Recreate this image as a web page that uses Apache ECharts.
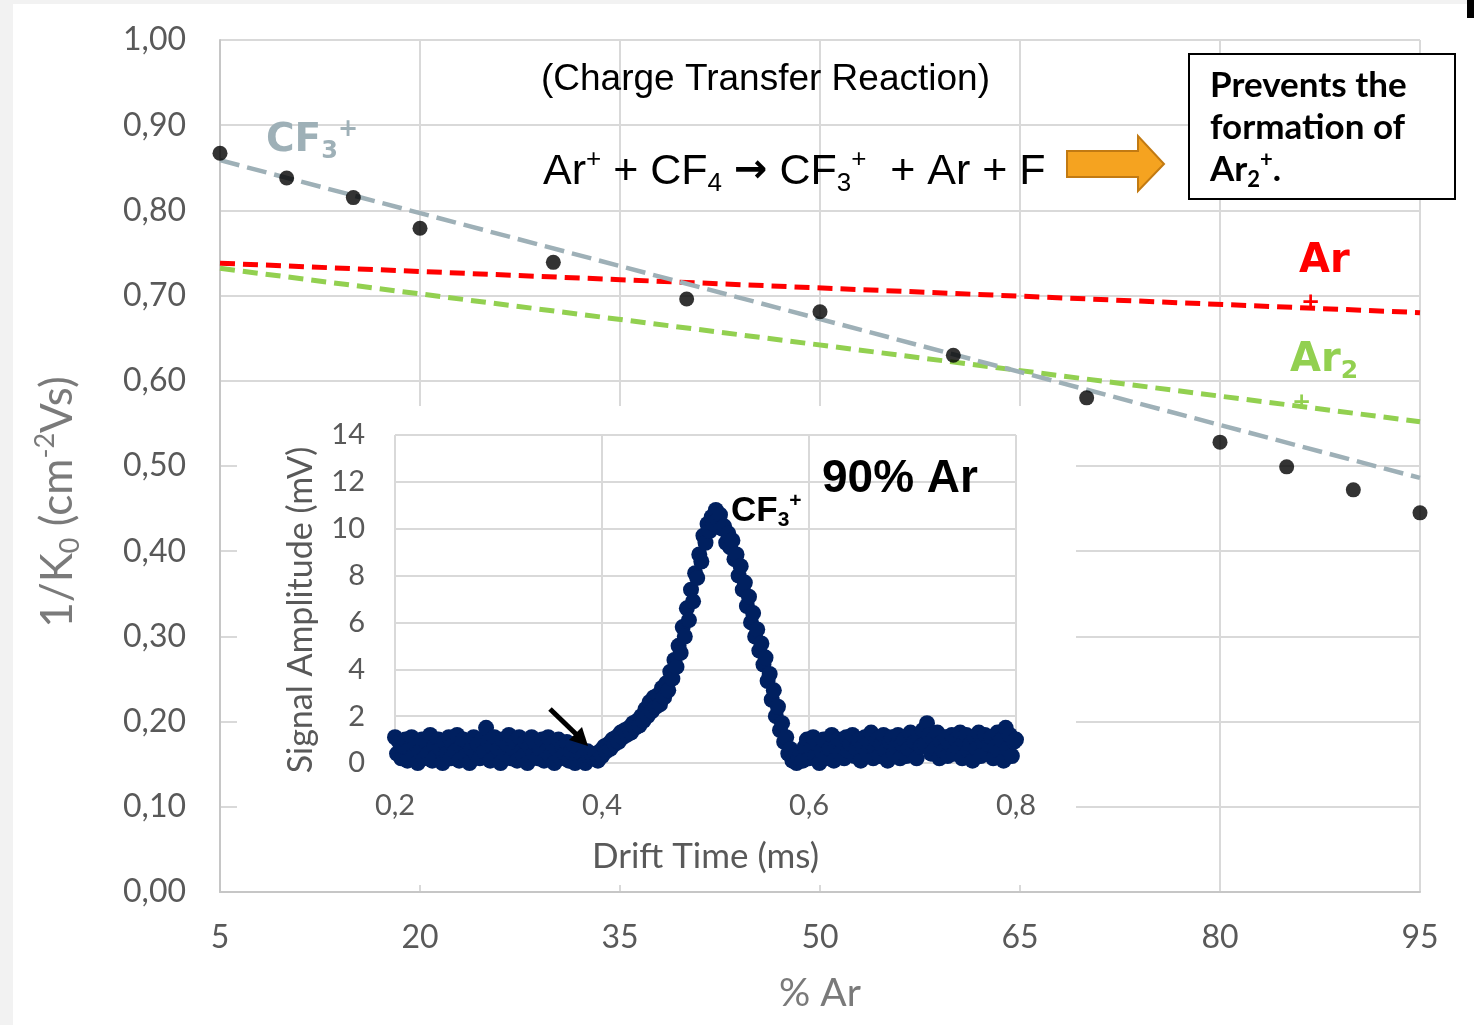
<!DOCTYPE html>
<html>
<head>
<meta charset="utf-8">
<script src="https://cdn.jsdelivr.net/npm/echarts@6/dist/echarts.min.js"></script>
<style>
  html, body { margin: 0; padding: 0; background: #fff; }
  #chart { width: 1474px; height: 1025px; }
</style>
</head>
<body>
<div id="chart"></div>
<script>
// main chart: 1/K0 vs % Ar
const arPercent = [5, 10, 15, 20, 30, 40, 50, 60, 70, 80, 85, 90, 95];
const invK0 = [0.867, 0.838, 0.815, 0.779, 0.739, 0.696, 0.681, 0.630, 0.580, 0.528, 0.499, 0.472, 0.445];

// dashed trend lines (start / end)
const cf3Trend = [[5, 0.859], [95, 0.486]];
const arTrend = [[5, 0.738], [95, 0.680]];
const ar2Trend = [[5, 0.732], [95, 0.552]];

// inset: drift spectrum at 90% Ar, one reading every 0.002 ms from 0.2 ms
const driftStart = 0.2;
const driftStep = 0.002;
const signal = [
  1.1, 0.4, 0.9, 0.2, 0.7, 1.0, 0.1, 0.6, 1.1, 0.3,
  0.8, 0.0, 0.5, 1.0, 0.2, 0.9, 0.4, 1.2, 0.1, 0.7,
  0.3, 1.0, 0.6, 0.0, 0.9, 0.4, 1.1, 0.2, 0.8, 0.5,
  1.2, 0.1, 0.7, 1.0, 0.3, 0.9, 0.0, 0.6, 1.1, 0.4,
  0.8, 0.2, 1.0, 0.5, 1.5, 0.9, 0.1, 0.7, 1.1, 0.3,
  0.6, 0.0, 1.0, 0.4, 0.8, 1.2, 0.2, 0.6, 0.9, 0.1,
  1.1, 0.5, 0.3, 0.9, 0.0, 0.7, 1.1, 0.4, 0.8, 0.2,
  0.6, 1.0, 0.1, 0.5, 1.1, 0.3, 0.8, 0.0, 0.6, 1.0,
  0.2, 0.7, 0.4, 0.9, 0.1, 0.5, 0.8, 0.0, 0.4, 0.6,
  0.1, 0.3, 0.0, 0.5, 0.2, 0.4,
  0.2, 0.4, 0.1, 0.5, 0.3, 0.7, 0.5, 0.8, 0.6, 1.0,
  0.8, 1.1, 0.9, 1.3, 1.1, 1.4, 1.2, 1.5, 1.3, 1.7,
  1.5, 1.8, 1.6, 2.0, 1.8, 2.3, 2.0, 2.6, 2.2, 2.8,
  2.4, 2.9, 2.5, 3.2, 2.8, 3.4, 3.1, 3.9, 3.6, 4.4,
  4.1, 5.0, 4.7, 5.8, 5.4, 6.6, 6.1, 7.4, 6.9, 8.1,
  7.9, 8.9, 8.6, 9.7, 9.4, 10.2, 9.9, 10.5, 10.2, 10.8,
  10.4, 10.6, 10.0, 10.1, 9.4, 9.8, 9.2, 9.5, 8.7, 8.9,
  8.0, 8.4, 7.4, 7.7, 6.7, 7.1, 6.0, 6.4, 5.4, 5.7,
  4.8, 5.1, 4.2, 4.5, 3.5, 3.8, 2.7, 3.1, 2.0, 2.4,
  1.4, 1.7, 0.9, 1.1, 0.4, 0.6, 0.1, 0.3, 0.0, 0.2,
  0.4, 0.1, 0.7, 1.0, 0.2, 0.6, 1.1, 0.3, 0.8, 0.0,
  0.5, 1.0, 0.2, 0.9, 0.6, 1.2, 0.1, 0.7, 1.0, 0.4,
  0.9, 0.2, 1.1, 0.5, 0.8, 1.2, 0.3, 0.6, 1.0, 0.1,
  0.7, 1.1, 0.4, 0.9, 1.3, 0.2, 0.6, 1.0, 0.3, 0.8,
  1.2, 0.5, 0.1, 0.9, 1.1, 0.4, 0.7, 1.2, 0.2, 0.8,
  1.0, 0.3, 0.6, 1.3, 0.5, 0.9, 0.2, 1.1, 0.7, 1.4,
  0.8, 1.7, 1.2, 0.4, 1.0, 0.6, 1.3, 0.2, 0.9, 0.5,
  1.1, 0.3, 0.8, 1.2, 0.4, 1.0, 0.6, 1.3, 0.2, 0.9,
  1.2, 0.5, 0.8, 0.1, 1.1, 0.6, 1.3, 0.3, 0.9, 1.2,
  0.4, 0.8, 1.1, 0.2, 0.7, 1.3, 0.5, 1.0, 0.1, 1.5,
  0.6, 1.2, 0.3, 0.9, 1.0
];

const mainPoints = arPercent.map((x, i) => [x, invK0[i]]);
const insetPoints = signal.map((v, i) => [+(driftStart + i * driftStep).toFixed(3), v]);

const tickGray = '#595959';
const nameGray = '#7a7a7a';
const gridGray = '#d9d9d9';
const comma = (v, d) => v.toFixed(d).replace('.', ',');

// rich text token helper (graphic text uses fill, labels use color)
const tok = (size, family, weight, color, extra) =>
  Object.assign({ fontSize: size, fontFamily: family, fontWeight: weight, color: color, fill: color }, extra || {});

const chart = echarts.init(document.getElementById('chart'));

chart.setOption({
  backgroundColor: '#ffffff',
  animation: false,
  grid: [
    { left: 220, right: 54, top: 40, bottom: 133 },
    { left: 395, right: 458, top: 435, bottom: 262 }
  ],
  xAxis: [
    {
      gridIndex: 0,
      type: 'value',
      min: 5,
      max: 95,
      interval: 15,
      name: '% Ar',
      nameLocation: 'middle',
      nameGap: 82,
      nameTextStyle: { fontSize: 39, fontFamily: 'Lato', color: nameGray },
      axisLine: { lineStyle: { color: '#c6c6c6', width: 2 } },
      axisTick: { show: false },
      axisLabel: { fontSize: 32, fontFamily: 'Lato', color: tickGray, margin: 30 },
      splitLine: { lineStyle: { color: gridGray, width: 2 } }
    },
    {
      gridIndex: 1,
      type: 'value',
      min: 0.2,
      max: 0.8,
      interval: 0.2,
      z: 3,
      name: 'Drift Time (ms)',
      nameLocation: 'middle',
      nameGap: 76,
      nameTextStyle: { fontSize: 35, fontFamily: 'Lato', color: tickGray },
      axisLine: { show: false },
      axisTick: { show: false },
      axisLabel: { fontSize: 29, fontFamily: 'Lato', color: tickGray, margin: 28, formatter: v => comma(v, 1) },
      splitLine: { lineStyle: { color: gridGray, width: 2 } }
    }
  ],
  yAxis: [
    {
      gridIndex: 0,
      type: 'value',
      min: 0,
      max: 1,
      interval: 0.1,
      axisLine: { show: true, lineStyle: { color: '#c6c6c6', width: 2 } },
      axisTick: { show: false },
      axisLabel: { fontSize: 32, fontFamily: 'Lato', color: tickGray, margin: 34, formatter: v => comma(v, 2) },
      splitLine: { lineStyle: { color: gridGray, width: 2 } }
    },
    {
      gridIndex: 1,
      type: 'value',
      min: 0,
      max: 14,
      interval: 2,
      z: 3,
      axisLine: { show: false },
      axisTick: { show: false },
      axisLabel: { fontSize: 29, fontFamily: 'Lato', color: tickGray, margin: 30 },
      splitLine: { lineStyle: { color: gridGray, width: 2 } }
    }
  ],
  series: [
    {
      name: 'Ar+ trend',
      type: 'line',
      xAxisIndex: 0, yAxisIndex: 0,
      data: arTrend,
      showSymbol: false,
      lineStyle: { color: '#ff0000', width: 5, type: [15, 8] }
    },
    {
      name: 'Ar2+ trend',
      type: 'line',
      xAxisIndex: 0, yAxisIndex: 0,
      data: ar2Trend,
      showSymbol: false,
      lineStyle: { color: '#92d050', width: 5, type: [15, 8] }
    },
    {
      name: 'CF3+ trend',
      type: 'line',
      xAxisIndex: 0, yAxisIndex: 0,
      data: cf3Trend,
      showSymbol: false,
      lineStyle: { color: '#9eb0b7', width: 4.5, type: [20, 8] }
    },
    {
      name: '1/K0',
      type: 'scatter',
      xAxisIndex: 0, yAxisIndex: 0,
      data: mainPoints,
      symbolSize: 15,
      itemStyle: { color: '#000000' },
      z: 5
    },
    {
      name: '90% Ar',
      type: 'scatter',
      xAxisIndex: 1, yAxisIndex: 1,
      data: insetPoints,
      symbolSize: 16,
      clip: false,
      itemStyle: { color: '#002060', opacity: 1 },
      z: 4
    }
  ],
  graphic: {
    elements: [
      // page edges
      { type: 'rect', z: 0, shape: { x: 0, y: 0, width: 13, height: 1025 }, style: { fill: '#f2f2f2' } },
      { type: 'rect', z: 0, shape: { x: 0, y: 0, width: 1474, height: 4 }, style: { fill: '#f2f2f2' } },
      { type: 'rect', z: 10, shape: { x: 1467, y: 0, width: 7, height: 18 }, style: { fill: '#000' } },
      // inset background
      { type: 'rect', z: 1, shape: { x: 237, y: 406, width: 839, height: 479 }, style: { fill: '#ffffff' } },
      // axis titles on the y side
      {
        type: 'text', z: 10, x: 58, y: 502, rotation: Math.PI / 2,
        style: {
          text: '{n|1/K}{sub|0}{n| (cm}{sup|-2}{n|Vs)}', align: 'center', verticalAlign: 'middle',
          rich: {
            n: tok(44, 'Lato', 'normal', nameGray, { lineHeight: 52 }),
            sub: tok(27, 'Lato', 'normal', nameGray, { lineHeight: 26, verticalAlign: 'bottom' }),
            sup: tok(27, 'Lato', 'normal', nameGray, { lineHeight: 30, verticalAlign: 'top' })
          }
        }
      },
      {
        type: 'text', z: 10, x: 301, y: 610, rotation: Math.PI / 2,
        style: { text: 'Signal Amplitude (mV)', fontSize: 34, fontFamily: 'Lato', fill: tickGray, align: 'center', verticalAlign: 'middle' }
      },
      // reaction text
      {
        type: 'text', z: 10, x: 541, y: 80,
        style: { text: '(Charge Transfer Reaction)', fontSize: 37, fontFamily: 'Liberation Sans', fill: '#000', align: 'left', verticalAlign: 'middle' }
      },
      {
        type: 'text', z: 10, x: 543, y: 172,
        style: {
          text: '{n|Ar}{sup|+}{n| + CF}{sub|4}{n| }{arr|→}{n| CF}{sub|3}{sup|+}{n|  + Ar + F}',
          align: 'left', verticalAlign: 'middle',
          rich: {
            n: tok(43, 'Liberation Sans', 'normal', '#000', { lineHeight: 50 }),
            arr: tok(40, 'DejaVu Sans', 'bold', '#000', { lineHeight: 50 }),
            sup: tok(26, 'Liberation Sans', 'normal', '#000', { lineHeight: 26, verticalAlign: 'top' }),
            sub: tok(26, 'Liberation Sans', 'normal', '#000', { lineHeight: 26, verticalAlign: 'bottom' })
          }
        }
      },
      // orange arrow
      {
        type: 'polygon', z: 10,
        shape: { points: [[1067, 151], [1138, 151], [1138, 136], [1164, 164], [1138, 191], [1138, 177], [1067, 177]] },
        style: { fill: '#f5a320', stroke: '#c27a12', lineWidth: 2 }
      },
      // note box
      { type: 'rect', z: 10, shape: { x: 1189, y: 54, width: 266, height: 145 }, style: { fill: '#ffffff', stroke: '#000', lineWidth: 2 } },
      { type: 'text', z: 11, x: 1210, y: 86, style: { text: 'Prevents the', fontSize: 35, fontFamily: 'Lato', fontWeight: 'bold', fill: '#000', verticalAlign: 'middle' } },
      { type: 'text', z: 11, x: 1210, y: 128, style: { text: 'formation of', fontSize: 35, fontFamily: 'Lato', fontWeight: 'bold', fill: '#000', verticalAlign: 'middle' } },
      {
        type: 'text', z: 11, x: 1210, y: 170,
        style: {
          text: '{n|Ar}{sub|2}{sup|+}{n|.}', verticalAlign: 'middle',
          rich: {
            n: tok(35, 'Lato', 'bold', '#000', { lineHeight: 42 }),
            sub: tok(22, 'Lato', 'bold', '#000', { lineHeight: 22, verticalAlign: 'bottom' }),
            sup: tok(22, 'Lato', 'bold', '#000', { lineHeight: 24, verticalAlign: 'top' })
          }
        }
      },
      // series labels
      {
        type: 'text', z: 10, x: 266, y: 141,
        style: {
          text: '{n|CF}{sub|3}{sup|+}', verticalAlign: 'middle',
          rich: {
            n: tok(39, 'DejaVu Sans', 'bold', '#9eb0b7', { lineHeight: 46 }),
            sub: tok(24, 'DejaVu Sans', 'bold', '#9eb0b7', { lineHeight: 24, verticalAlign: 'bottom' }),
            sup: tok(24, 'DejaVu Sans', 'bold', '#9eb0b7', { lineHeight: 26, verticalAlign: 'top' })
          }
        }
      },
      { type: 'text', z: 10, x: 1299, y: 262, style: { text: 'Ar', fontSize: 40, fontFamily: 'DejaVu Sans', fontWeight: 'bold', fill: '#ff0000', verticalAlign: 'middle' } },
      { type: 'text', z: 10, x: 1301, y: 303, style: { text: '+', fontSize: 23, fontFamily: 'DejaVu Sans', fontWeight: 'bold', fill: '#ff0000', verticalAlign: 'middle' } },
      {
        type: 'text', z: 10, x: 1290, y: 361,
        style: {
          text: '{n|Ar}{sub|2}', verticalAlign: 'middle',
          rich: {
            n: tok(40, 'DejaVu Sans', 'bold', '#92d050', { lineHeight: 46 }),
            sub: tok(25, 'DejaVu Sans', 'bold', '#92d050', { lineHeight: 24, verticalAlign: 'bottom' })
          }
        }
      },
      { type: 'text', z: 10, x: 1292, y: 403, style: { text: '+', fontSize: 23, fontFamily: 'DejaVu Sans', fontWeight: 'bold', fill: '#92d050', verticalAlign: 'middle' } },
      // inset labels
      { type: 'text', z: 10, x: 822, y: 479, style: { text: '90% Ar', fontSize: 46, fontFamily: 'Liberation Sans', fontWeight: 'bold', fill: '#000', verticalAlign: 'middle' } },
      {
        type: 'text', z: 10, x: 731, y: 511,
        style: {
          text: '{n|CF}{sub|3}{sup|+}', verticalAlign: 'middle',
          rich: {
            n: tok(35, 'Liberation Sans', 'bold', '#000', { lineHeight: 40 }),
            sub: tok(21, 'Liberation Sans', 'bold', '#000', { lineHeight: 21, verticalAlign: 'bottom' }),
            sup: tok(21, 'Liberation Sans', 'bold', '#000', { lineHeight: 22, verticalAlign: 'top' })
          }
        }
      },
      // black pointer arrow in inset
      { type: 'line', z: 10, shape: { x1: 550, y1: 709, x2: 577, y2: 735 }, style: { stroke: '#000', lineWidth: 5 } },
      { type: 'polygon', z: 10, shape: { points: [[588, 746], [569, 740], [582, 727]] }, style: { fill: '#000' } }
    ]
  }
});
</script>
</body>
</html>
